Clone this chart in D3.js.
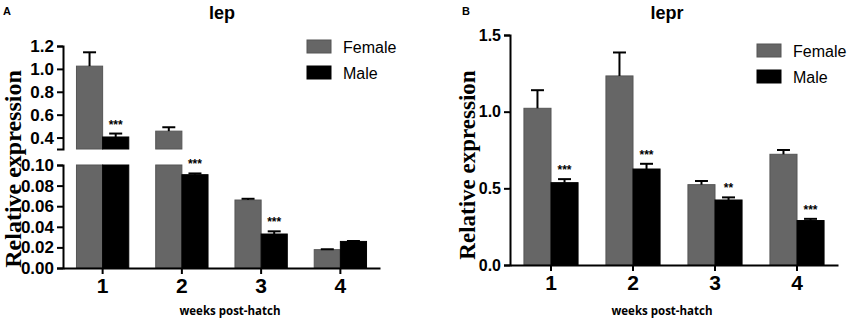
<!DOCTYPE html>
<html>
<head>
<meta charset="utf-8">
<script src="https://cdn.jsdelivr.net/npm/d3@7"></script>
<style>
  body { margin: 0; background: #fff; }
  svg { display: block; }
  .axis path, .axis line { stroke: #000; stroke-width: 2px; }
  .axis text { font-family: "Liberation Sans", Arial, sans-serif; font-weight: bold; fill: #000; }
</style>
</head>
<body>
<div id="chart"></div>
<script>
// weeks post-hatch
var weeks = ["1", "2", "3", "4"];
var sexes = ["Female", "Male"];

// lep relative expression
var lepFemale = [1.024, 0.456, 0.066, 0.0178];
var lepFemaleErr = [0.121, 0.034, 0.0012, 0.0004];
var lepMale = [0.405, 0.0906, 0.033, 0.0258];
var lepMaleErr = [0.03, 0.0012, 0.0026, 0.0004];
var lepMaleSig = ["***", "***", "***", ""];

// lepr relative expression
var leprFemale = [1.022, 1.233, 0.524, 0.722];
var leprFemaleErr = [0.118, 0.153, 0.024, 0.028];
var leprMale = [0.537, 0.626, 0.424, 0.29];
var leprMaleErr = [0.023, 0.034, 0.017, 0.011];
var leprMaleSig = ["***", "***", "**", "***"];

var femaleColor = "#666666";
var maleColor = "#000000";

var svg = d3.select("#chart").append("svg")
    .attr("width", 851)
    .attr("height", 318);

function rows(f, fe, m, me, sig) {
    var out = [];
    weeks.forEach(function (w, i) {
        out.push({ week: w, sex: "Female", v: f[i], e: fe[i], sig: "" });
        out.push({ week: w, sex: "Male", v: m[i], e: me[i], sig: sig[i] });
    });
    return out;
}

function drawPanel(cfg) {
    var g = svg.append("g");
    var data = rows(cfg.f, cfg.fe, cfg.m, cfg.me, cfg.sig);

    var x = d3.scaleBand().domain(weeks).range([cfg.x0, cfg.x1])
        .paddingInner(0.34).paddingOuter(0.17);
    var xs = d3.scaleBand().domain(sexes).range([0, x.bandwidth()]);
    var color = d3.scaleOrdinal().domain(sexes).range([femaleColor, maleColor]);

    cfg.segments.forEach(function (seg) {
        var y = d3.scaleLinear().domain(seg.domain).range(seg.range);
        var d0 = seg.domain[0], d1 = seg.domain[1];

        // bars, clipped to this segment
        g.selectAll(null)
            .data(data.filter(function (d) { return d.v > d0; }))
            .enter().append("rect")
            .attr("x", function (d) { return x(d.week) + xs(d.sex); })
            .attr("width", xs.bandwidth())
            .attr("y", function (d) { return y(Math.min(d.v, d1)); })
            .attr("height", function (d) { return y(d0) - y(Math.min(d.v, d1)); })
            .attr("fill", function (d) { return color(d.sex); })
            .attr("stroke", function (d) { return d.sex == "Female" ? "#555" : "#000"; })
            .attr("stroke-width", 1);

        // error bars (upper only)
        var inSeg = data.filter(function (d) { return d.v >= d0 && d.v <= d1; });
        var eb = g.selectAll(null).data(inSeg).enter().append("g")
            .attr("stroke", "#000").attr("stroke-width", 2);
        eb.append("line")
            .attr("x1", function (d) { return x(d.week) + xs(d.sex) + xs.bandwidth() / 2; })
            .attr("x2", function (d) { return x(d.week) + xs(d.sex) + xs.bandwidth() / 2; })
            .attr("y1", function (d) { return y(d.v); })
            .attr("y2", function (d) { return y(d.v + d.e); });
        eb.append("line")
            .attr("x1", function (d) { return x(d.week) + xs(d.sex) + xs.bandwidth() / 2 - 6.5; })
            .attr("x2", function (d) { return x(d.week) + xs(d.sex) + xs.bandwidth() / 2 + 6.5; })
            .attr("y1", function (d) { return y(d.v + d.e); })
            .attr("y2", function (d) { return y(d.v + d.e); });

        // significance stars
        g.selectAll(null).data(inSeg.filter(function (d) { return d.sig; }))
            .enter().append("text")
            .attr("x", function (d) { return x(d.week) + xs(d.sex) + xs.bandwidth() / 2; })
            .attr("y", function (d) { return y(d.v + d.e) - 5; })
            .attr("text-anchor", "middle")
            .style("font-family", "Liberation Sans, Arial, sans-serif")
            .style("font-size", "12px")
            .style("font-weight", "bold")
            .text(function (d) { return d.sig; });

        // y axis segment
        g.append("g")
            .attr("class", "axis")
            .attr("transform", "translate(" + cfg.x0 + ",0)")
            .call(d3.axisLeft(y).tickValues(seg.ticks).tickFormat(d3.format(seg.fmt))
                .tickSize(6).tickSizeOuter(6).tickPadding(3))
            .selectAll("text").style("font-size", cfg.yTickSize + "px");
    });

    // x axis
    var xAxisG = g.append("g")
        .attr("class", "axis")
        .attr("transform", "translate(0," + cfg.baseY + ")")
        .call(d3.axisBottom(x).tickSize(6).tickSizeOuter(0).tickPadding(4));
    xAxisG.selectAll("text").style("font-size", "21px");

    // panel letter and title
    g.append("text").attr("x", cfg.letterX).attr("y", 15)
        .style("font-family", "Liberation Sans, Arial, sans-serif")
        .style("font-size", "11px").style("font-weight", "bold")
        .text(cfg.letter);
    g.append("text").attr("x", cfg.titleX).attr("y", 19)
        .attr("text-anchor", "middle")
        .style("font-family", "Liberation Sans, Arial, sans-serif")
        .style("font-size", "18px").style("font-weight", "bold")
        .text(cfg.title);

    // y label
    g.append("text")
        .attr("transform", "translate(" + cfg.yLabelX + "," + cfg.yLabelY + ") rotate(-90)")
        .attr("text-anchor", "middle")
        .attr("dominant-baseline", "central")
        .style("font-family", "Liberation Serif, Times New Roman, serif")
        .style("font-size", cfg.yLabelSize + "px").style("font-weight", "bold")
        .text("Relative expression");

    // x label
    g.append("text")
        .attr("x", cfg.xLabelX).attr("y", 315)
        .attr("text-anchor", "middle")
        .style("font-family", "Open Sans, sans-serif")
        .style("font-size", "11.5px").style("font-weight", "bold")
        .text("weeks post-hatch");

    // legend
    var leg = g.selectAll(null).data(sexes).enter().append("g")
        .attr("transform", function (d, i) { return "translate(" + cfg.legX + "," + (cfg.legY + i * 26) + ")"; });
    leg.append("rect")
        .attr("width", 24).attr("height", 13)
        .attr("fill", function (d) { return color(d); })
        .attr("stroke", function (d) { return d == "Female" ? "#555" : "#000"; });
    leg.append("text")
        .attr("x", 36).attr("y", 13)
        .style("font-family", "Liberation Sans, Arial, sans-serif")
        .style("font-size", "16px")
        .text(function (d) { return d; });
}

drawPanel({
    f: lepFemale, fe: lepFemaleErr, m: lepMale, me: lepMaleErr, sig: lepMaleSig,
    x0: 63, x1: 380, baseY: 268,
    segments: [
        { domain: [0, 0.1], range: [268, 165], ticks: [0, 0.02, 0.04, 0.06, 0.08, 0.1], fmt: ".2f" },
        { domain: [0.3, 1.2], range: [149, 46], ticks: [0.4, 0.6, 0.8, 1.0, 1.2], fmt: ".1f" }
    ],
    yTickSize: 17,
    letter: "A", letterX: 3, title: "lep", titleX: 222,
    yLabelX: 13, yLabelY: 169, yLabelSize: 24,
    xLabelX: 230,
    legX: 307, legY: 40
});

drawPanel({
    f: leprFemale, fe: leprFemaleErr, m: leprMale, me: leprMaleErr, sig: leprMaleSig,
    x0: 510, x1: 838, baseY: 265,
    segments: [
        { domain: [0, 1.5], range: [265, 35], ticks: [0, 0.5, 1.0, 1.5], fmt: ".1f" }
    ],
    yTickSize: 16,
    letter: "B", letterX: 462, title: "lepr", titleX: 667,
    yLabelX: 467, yLabelY: 165, yLabelSize: 23,
    xLabelX: 662,
    legX: 757, legY: 44
});
</script>
</body>
</html>
